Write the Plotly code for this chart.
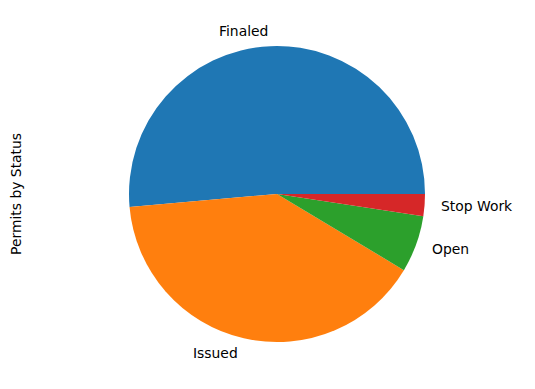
import math
import plotly.graph_objects as go

labels = ["Finaled", "Issued", "Open", "Stop Work"]
values = [514, 400, 62, 24]
colors = ["#1f77b4", "#ff7f0e", "#2ca02c", "#d62728"]
ylabel = "Permits by Status"

W, H = 535, 389
cx, cy, r = 277, 194, 148  # pie centre/radius in pixels (from top)

total = sum(values)
# plotly ccw pies: first slice spans [rotation, rotation + v0] clockwise from 12 o'clock;
# we want the counterclockwise start at 3 o'clock like matplotlib
rot = 90 - 360 * values[0] / total

fig = go.Figure(go.Pie(
    labels=labels, values=values, sort=False,
    direction="counterclockwise", rotation=rot,
    marker=dict(colors=colors, line=dict(width=0)),
    textinfo="none", hoverinfo="label+value",
    domain=dict(x=[(cx - r) / W, (cx + r) / W],
                y=[(H - cy - r) / H, (H - cy + r) / H]),
    showlegend=False,
))

start = 0.0
for lab, v in zip(labels, values):
    frac = v / total
    mid = math.radians((start + frac / 2) * 360)
    start += frac
    px = cx + 1.1 * r * math.cos(mid)
    py = cy - 1.1 * r * math.sin(mid)
    fig.add_annotation(
        x=px / W, y=1 - py / H, xref="paper", yref="paper",
        text=lab, showarrow=False,
        xanchor="left" if math.cos(mid) > 0 else "right", yanchor="middle",
        font=dict(family="DejaVu Sans", size=13.9, color="black"),
    )

fig.add_annotation(
    x=16 / W, y=1 - cy / H, xref="paper", yref="paper",
    text=ylabel, showarrow=False, textangle=-90,
    xanchor="center", yanchor="middle",
    font=dict(family="DejaVu Sans", size=13.9, color="black"),
)

fig.update_layout(
    width=W, height=H, margin=dict(l=0, r=0, t=0, b=0),
    paper_bgcolor="white", plot_bgcolor="white",
)
fig.write_html("out.html")
